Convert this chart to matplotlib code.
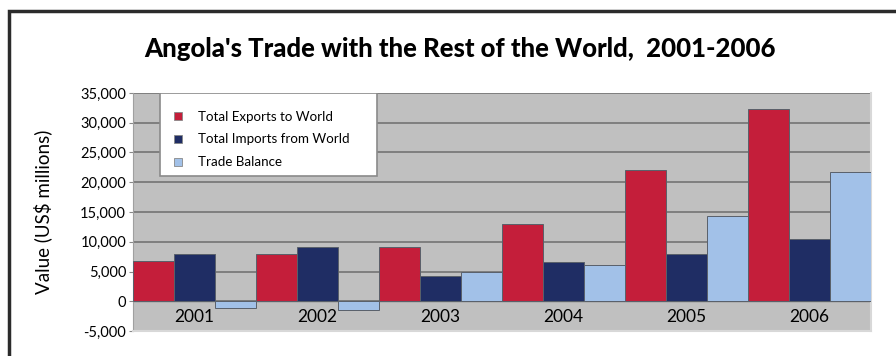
import numpy as np
import matplotlib.pyplot as plt
from matplotlib.patches import Rectangle
from matplotlib.ticker import FuncFormatter

years = ['2001', '2002', '2003', '2004', '2005', '2006']
exports = [6800, 8000, 9200, 12900, 22100, 32300]
imports = [8000, 9200, 4200, 6600, 7900, 10400]
balance = [-1100, -1500, 4900, 6100, 14400, 21800]
series_names = ['Total Exports to World', 'Total Imports from World', 'Trade Balance']

plt.rcParams['font.family'] = ['Lato', 'DejaVu Sans']

fig = plt.figure(figsize=(8.96, 3.56), dpi=100)
ax = fig.add_axes([0.1484, 0.0702, 0.8237, 0.6686])
ax.set_facecolor('#c0c0c0')

# outer frame, only top and left show in the original
fig.patches.append(Rectangle((9 / 896, -0.1), 1.2, 1 - 11 / 356 + 0.1, transform=fig.transFigure,
                             fill=False, edgecolor='#2b2b2b', linewidth=2.5))

x = np.arange(len(years))
w = 1 / 3
cols = ['#c41e3a', '#1f2d64', '#a2c1e8']
for i, (vals, c) in enumerate(zip([exports, imports, balance], cols)):
    ax.bar(x + (i - 1) * w, vals, w, color=c, edgecolor='#59606a', linewidth=0.7,
           label=series_names[i], zorder=3)

ax.set_xlim(-0.5, 5.5)
ax.set_ylim(-5000, 35000)
ax.set_yticks(np.arange(-5000, 35001, 5000))
ax.yaxis.set_major_formatter(FuncFormatter(lambda v, p: f'{int(v):,}'))
ax.grid(axis='y', color='#7a7a7a', linewidth=1.3, zorder=1)
ax.axhline(0, color='#6a6a6a', linewidth=1.0, zorder=2)
ax.set_xticks([])
ax.tick_params(axis='y', labelsize=10.5, length=3, width=0.8, color='#888888', pad=2)
for s in ['top', 'left']:
    ax.spines[s].set_visible(False)
for s in ['right', 'bottom']:
    ax.spines[s].set_color('#d8d8d8')
    ax.spines[s].set_linewidth(1.5)
ax.spines['left'].set_visible(True)
ax.spines['left'].set_color('#a0a0a0')

for i, yr in enumerate(years):
    ax.text(i, -2700, yr, ha='center', va='center', fontsize=12.5, zorder=4)

ax.set_ylabel('Value (US$ millions)', fontsize=13.5, labelpad=20)

fig.text(0.513, 0.862, "Angola's Trade with the Rest of the World,  2001-2006",
         ha='center', va='center', fontsize=18.5, fontweight='black')

# legend box is wider on the right than the entries need
ax.add_patch(Rectangle((0.0366, 0.651), 0.294, 0.349, transform=ax.transAxes,
                       facecolor='white', edgecolor='#8a8a8a', linewidth=1.2, zorder=5))
leg = ax.legend(loc='upper left', bbox_to_anchor=(0.045, 0.96), frameon=False,
                fontsize=9.6, handlelength=0.55, handleheight=0.55, handletextpad=1.2,
                borderpad=0.6, labelspacing=0.82, borderaxespad=0)
leg.set_zorder(6)
for h in leg.legend_handles:
    h.set_edgecolor('#888888')
    h.set_linewidth(0.6)

fig.savefig('out.png', dpi=100)
